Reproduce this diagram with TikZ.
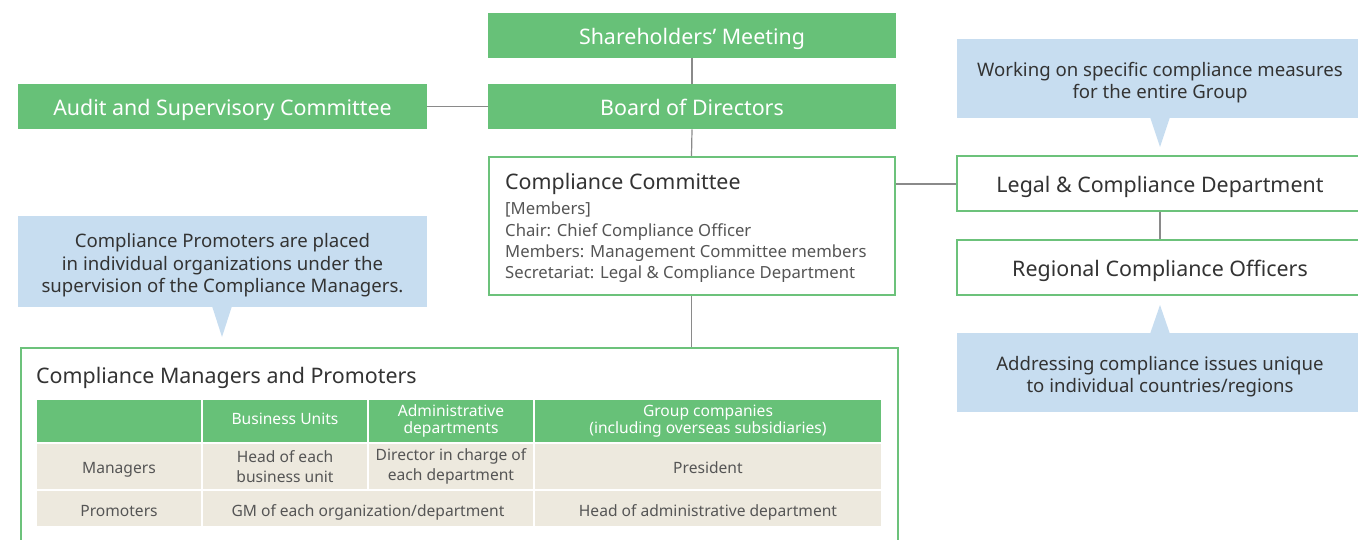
\documentclass[tikz,border=0pt]{standalone}
\usepackage{fontspec}
\setmainfont{Noto Sans}
\definecolor{gfill}{HTML}{67C178}
\definecolor{gline}{HTML}{6CC27B}
\definecolor{cline}{HTML}{8A8A8A}
\definecolor{bluef}{HTML}{C7DDF0}
\definecolor{beige}{HTML}{EDE9DE}
\definecolor{txt}{HTML}{333333}
\definecolor{txtg}{HTML}{555555}
\begin{document}
\begin{tikzpicture}[x=1pt,y={(0pt,-1pt)},
  big/.style={font=\fontsize{21.4}{25}\selectfont},
  gbox/.style={big,fill=gfill,draw=none,text=white,inner sep=0,text height=18.6pt,text depth=0pt},
  wbox/.style={fill=white,draw=gline,line width=2pt,inner sep=0},
  btext/.style={big,text=txt,inner sep=0},
  conn/.style={draw=cline,line width=1.2pt},
  callout/.style={fill=bluef,draw=none},
  ctext/.style={text=txt,font=\fontsize{18.6}{22.5}\selectfont,align=center,inner sep=0},
  hcell/.style={fill=gfill,draw=white,line width=2pt,text=white,font=\fontsize{15.6}{17.5}\selectfont,align=center,inner sep=0},
  bcell/.style={fill=beige,draw=white,line width=2pt,text=txtg,font=\fontsize{15.6}{19.5}\selectfont,align=center,inner sep=0},
  oneline/.style={text height=13pt,text depth=0pt}]
\useasboundingbox (0,0) rectangle (1358,540);
\clip (0,0) rectangle (1358,540);

% top boxes
\node[gbox,minimum width=408,minimum height=45] (sh) at (692,35.2) {Shareholders’ Meeting};
\node[gbox,minimum width=408,minimum height=45] (bd) at (692,106.7) {Board of Directors};
\node[gbox,minimum width=409,minimum height=45] (au) at (222.5,106.7) {Audit and Supervisory Committee};

% compliance committee
\node[wbox,minimum width=406,minimum height=138] (cc) at (691.5,226) {};
\node[btext,anchor=base west] (cct) at (505,189.5) {Compliance Committee};
\node[anchor=north west,text=txtg,align=left,font=\fontsize{16.7}{21.2}\selectfont,inner sep=0] (ccm) at (505,202)
  {[Members]\\Chair: Chief Compliance Officer\\Members: Management Committee members\\Secretariat: Legal \& Compliance Department};

% right boxes
\node[wbox,minimum width=420,minimum height=55] (lg) at (1167,184) {};
\node[btext,anchor=base] (lgt) at (1160,192.7) {Legal \& Compliance Department};
\node[wbox,minimum width=420,minimum height=55] (rg) at (1167,267.5) {};
\node[btext,anchor=base] (rgt) at (1160,276.3) {Regional Compliance Officers};

% callouts right
\fill[callout] (957,39) rectangle (1370,118);
\fill[callout] (1150,117) -- (1160,147) -- (1170,117) -- cycle;
\node[ctext] (c1) at (1160,82.5) {Working on specific compliance measures\\for the entire Group};
\fill[callout] (957,333) rectangle (1370,412);
\fill[callout] (1150,334) -- (1160,305) -- (1170,334) -- cycle;
\node[ctext] (c2) at (1160,376.5) {Addressing compliance issues unique\\to individual countries/regions};

% callout left
\fill[callout] (18,216) rectangle (427,307);
\fill[callout] (212,306) -- (222,337) -- (232,306) -- cycle;
\node[ctext] (c3) at (222.5,265.5) {Compliance Promoters are placed\\in individual organizations under the\\supervision of the Compliance Managers.};

% big box
\node[wbox,anchor=north west,minimum width=877,minimum height=220] (bg) at (20,347) {};
\node[btext,anchor=base west] (bgt) at (36,383.3) {Compliance Managers and Promoters};

% table
\node[hcell,minimum width=166,minimum height=44,anchor=north west] (h0) at (35,398) {};
\node[hcell,text height=6.6pt,text depth=0pt,minimum width=166,minimum height=44,anchor=north west] (h1) at (201,398) {Business Units};
\node[hcell,minimum width=166,minimum height=44,anchor=north west] (h2) at (367,398) {Administrative\\departments};
\node[hcell,minimum width=348,minimum height=44,anchor=north west] (h3) at (533,398) {Group companies\\(including overseas subsidiaries)};
\node[bcell,oneline,minimum width=166,minimum height=47,anchor=north west] (m0) at (35,442) {Managers};
\node[bcell,minimum width=166,minimum height=47,anchor=north west] (m1) at (201,442) {Head of each\\business unit};
\node[bcell,minimum width=166,minimum height=47,anchor=north west] (m2) at (367,442) {Director in charge of\\each department};
\node[bcell,oneline,minimum width=348,minimum height=47,anchor=north west] (m3) at (533,442) {President};
\node[bcell,text height=16pt,text depth=0pt,minimum width=166,minimum height=37,anchor=north west] (p0) at (35,489) {Promoters};
\node[bcell,text height=16pt,text depth=0pt,minimum width=332,minimum height=37,anchor=north west] (p1) at (201,489) {GM of each organization/department};
\node[bcell,text height=16pt,text depth=0pt,minimum width=348,minimum height=37,anchor=north west] (p3) at (533,489) {Head of administrative department};

% connectors
\draw[conn] (sh.south) -- (bd.north);
\draw[conn] (au.east) -- (bd.west);
\draw[conn] (bd.south) -- (cc.north);
\draw[conn] (cc.south) -- (cc.south |- bg.north);
\draw[conn] (cc.east |- lg.west) -- (lg.west);
\draw[conn] (lgt.center |- lg.south) -- (lgt.center |- rg.north);
\end{tikzpicture}
\end{document}
